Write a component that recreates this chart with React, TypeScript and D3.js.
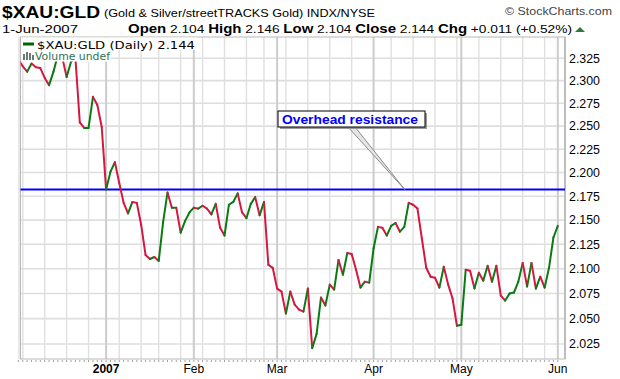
import React from 'react';
import * as d3 from 'd3';

// ---- data ----
const closes: number[] = [
  2.323, 2.316, 2.310, 2.319, 2.315, 2.314, 2.303, 2.295, 2.310, 2.329,
  2.326, 2.304, 2.321, 2.325, 2.254, 2.248, 2.248, 2.282, 2.273, 2.249,
  2.182, 2.201, 2.211, 2.189, 2.168, 2.157, 2.169, 2.168, 2.145, 2.114,
  2.110, 2.112, 2.108, 2.148, 2.179, 2.163, 2.163, 2.137, 2.149, 2.158,
  2.163, 2.162, 2.165, 2.162, 2.156, 2.167, 2.142, 2.134, 2.166, 2.169,
  2.178, 2.158, 2.152, 2.167, 2.174, 2.155, 2.169, 2.104, 2.101, 2.080,
  2.077, 2.055, 2.077, 2.064, 2.059, 2.057, 2.080, 2.021, 2.035, 2.071,
  2.063, 2.084, 2.079, 2.109, 2.094, 2.116, 2.115, 2.099, 2.081, 2.087,
  2.086, 2.121, 2.143, 2.142, 2.134, 2.144, 2.147, 2.138, 2.143, 2.168,
  2.166, 2.162, 2.131, 2.101, 2.092, 2.091, 2.081, 2.102, 2.084, 2.070,
  2.043, 2.044, 2.099, 2.098, 2.080, 2.096, 2.088, 2.103, 2.087, 2.103,
  2.073, 2.068, 2.075, 2.076, 2.087, 2.106, 2.082, 2.106, 2.080, 2.092,
  2.081, 2.101, 2.132, 2.144,
];
const holidays: string[] = ['2006-12-25', '2007-01-01', '2007-01-02', '2007-01-15', '2007-02-19', '2007-04-06', '2007-05-28'];
const firstDay = '2006-12-01';
const lastDay = '2007-06-01';
const yTicks: number[] = [2.025, 2.05, 2.075, 2.1, 2.125, 2.15, 2.175, 2.2, 2.225, 2.25, 2.275, 2.3, 2.325];
const monthLabels: string[] = ['2007', 'Feb', 'Mar', 'Apr', 'May', 'Jun'];
const resistance = 2.182;
const quoteLabels: string[] = ['Open', 'High', 'Low', 'Close', 'Chg'];
const quoteValues: string[] = ['2.104', '2.146', '2.104', '2.144', '+0.011 (+0.52%)'];

const W = 620, H = 379;
const L = 20.5, R = 565, T = 37, B = 359;

const fmt = d3.timeFormat('%Y-%m-%d');
const parse = d3.timeParse('%Y-%m-%d');
const days = d3.timeDay
  .range(parse(firstDay) as Date, d3.timeDay.offset(parse(lastDay) as Date, 1))
  .filter((d) => d.getDay() !== 0 && d.getDay() !== 6 && !holidays.includes(fmt(d)));

export default function App() {
  const n = closes.length;
  const x = d3.scaleLinear().domain([0, n - 1]).range([18.4, 557.8]);
  const y = d3.scaleLog().domain([2.0104, 2.349]).range([B, T]);

  const monthIdx: number[] = [];
  const weekIdx: number[] = [];
  days.forEach((d, i) => {
    if (i === 0) return;
    const p = days[i - 1];
    if (d.getMonth() !== p.getMonth()) monthIdx.push(i);
    else if (+d3.timeMonday.floor(d) !== +d3.timeMonday.floor(p)) weekIdx.push(i);
  });

  const line = d3.line<number>().x((_, i) => 0).y(() => 0);
  void line;

  const segs = closes.slice(1).map((v, k) => {
    const i = k + 1;
    const up = v >= closes[i - 1];
    return (
      <line key={i} x1={x(i - 1)} y1={y(closes[i - 1])} x2={x(i)} y2={y(v)}
        stroke={up ? '#0b7a12' : '#d41842'} strokeWidth={2} strokeLinecap="round" />
    );
  });

  const ry = y(resistance);
  const font = "'Liberation Sans', Arial, sans-serif";

  return (
    <svg width={W} height={H} style={{ position: 'absolute', left: 0, top: 0 }} fontFamily={font}>
      <rect x={0} y={0} width={W} height={H} fill="#fff" />
      <defs>
        <clipPath id="plot"><rect x={L} y={T} width={R - L} height={B - T} /></clipPath>
      </defs>
      {/* grid */}
      {yTicks.map((t) => (
        <line key={t} x1={L} x2={R} y1={y(t)} y2={y(t)} stroke="#dedede" strokeWidth={1.6} />
      ))}
      {weekIdx.map((i) => (
        <line key={'w' + i} x1={x(i)} x2={x(i)} y1={T} y2={B} stroke="#e0e0e0" strokeWidth={1.4} />
      ))}
      {monthIdx.map((i) => (
        <line key={'m' + i} x1={x(i)} x2={x(i)} y1={T} y2={B} stroke="#cccccc" strokeWidth={2} />
      ))}
      {/* frame */}
      <rect x={L} y={T} width={R - L} height={B - T} fill="none" stroke="#b8b8b8" strokeWidth={1} />
      <line x1={L - 1.5} x2={L - 1.5} y1={T} y2={B} stroke="#cfcfcf" strokeWidth={1} />
      <line x1={R} x2={R} y1={T} y2={B} stroke="#bdbdbd" strokeWidth={2} />
      {/* daily ticks on bottom */}
      {closes.map((_, i) => (
        <line key={'t' + i} x1={x(i)} x2={x(i)} y1={B + 1} y2={B + 3} stroke="#a0a0a0" strokeWidth={1} />
      ))}
      {/* resistance line */}
      <line x1={L} x2={R} y1={ry} y2={ry} stroke="#0000ff" strokeWidth={2} />
      {/* price */}
      <g clipPath="url(#plot)">{segs}</g>
      {/* legend */}
      <rect x={L + 0.5} y={T + 0.5} width={176} height={12.5} fill="#fff" />
      <rect x={L + 0.5} y={T + 12} width={90} height={12.5} fill="#fff" />
      <line x1={23} x2={34} y1={44} y2={44} stroke="#006400" strokeWidth={3} />
      <text x={37} y={48.5} fontSize={11} fontFamily="'DejaVu Sans', sans-serif" textLength={158} lengthAdjust="spacingAndGlyphs">$XAU:GLD (Daily) 2.144</text>
      <g fill="#6a7a72">
        <rect x={23} y={54} width={2} height={6} />
        <rect x={26} y={52} width={2} height={8} />
        <rect x={29} y={53} width={2} height={7} />
        <rect x={32} y={55} width={2} height={5} />
      </g>
      <text x={35} y={60} fontSize={11} fill="#2e7056" fontFamily="'DejaVu Sans', sans-serif" textLength={75} lengthAdjust="spacingAndGlyphs">Volume undef</text>
      {/* annotation */}
      <polygon points={`348,127 ${x(88) + 0.5},${ry} 355,127`} fill="#e6e6e6" stroke="#8a8a8a" strokeWidth={1} />
      <rect x={280} y={113} width={147} height={16} fill="#9a9a9a" />
      <rect x={278} y={111} width={147} height={16} fill="#fff" stroke="#000" strokeWidth={1} />
      <text x={282} y={124} fontSize={12} fontWeight="bold" fill="#0000ff" textLength={136} lengthAdjust="spacingAndGlyphs">Overhead resistance</text>
      {/* y axis labels */}
      {yTicks.map((t) => (
        <text key={'yl' + t} x={569} y={y(t)} dy="0.36em" fontSize={12} textLength={31} lengthAdjust="spacingAndGlyphs">{t.toFixed(3)}</text>
      ))}
      {/* x labels */}
      {monthIdx.map((i, k) => (
        <text key={'xl' + i} x={x(i)} y={373} fontSize={12} textAnchor="middle" fontWeight={k === 0 ? 'bold' : 'normal'}>{monthLabels[k]}</text>
      ))}
      {/* header */}
      <text x={2} y={18} fontSize={17} fontWeight="bold" textLength={98} lengthAdjust="spacingAndGlyphs">$XAU:GLD</text>
      <text x={104} y={17} fontSize={11} textLength={271} lengthAdjust="spacingAndGlyphs">(Gold &amp; Silver/streetTRACKS Gold) INDX/NYSE</text>
      <text x={505} y={15} fontSize={11} fill="#444" textLength={107} lengthAdjust="spacingAndGlyphs">© StockCharts.com</text>
      <text x={2} y={33} fontSize={11} textLength={76} lengthAdjust="spacingAndGlyphs">1-Jun-2007</text>
      <text x={128} y={33} fontSize={12} textLength={444} lengthAdjust="spacingAndGlyphs">
        {quoteLabels.map((l, k) => (
          <React.Fragment key={l}>
            <tspan fontWeight="bold">{l}</tspan>
            <tspan fontSize={11}>{' ' + quoteValues[k] + (k < quoteLabels.length - 1 ? '  ' : '')}</tspan>
          </React.Fragment>
        ))}
      </text>
      <polygon points="575,32 585,32 580,27" fill="#2f7a3a" />
    </svg>
  );
}
